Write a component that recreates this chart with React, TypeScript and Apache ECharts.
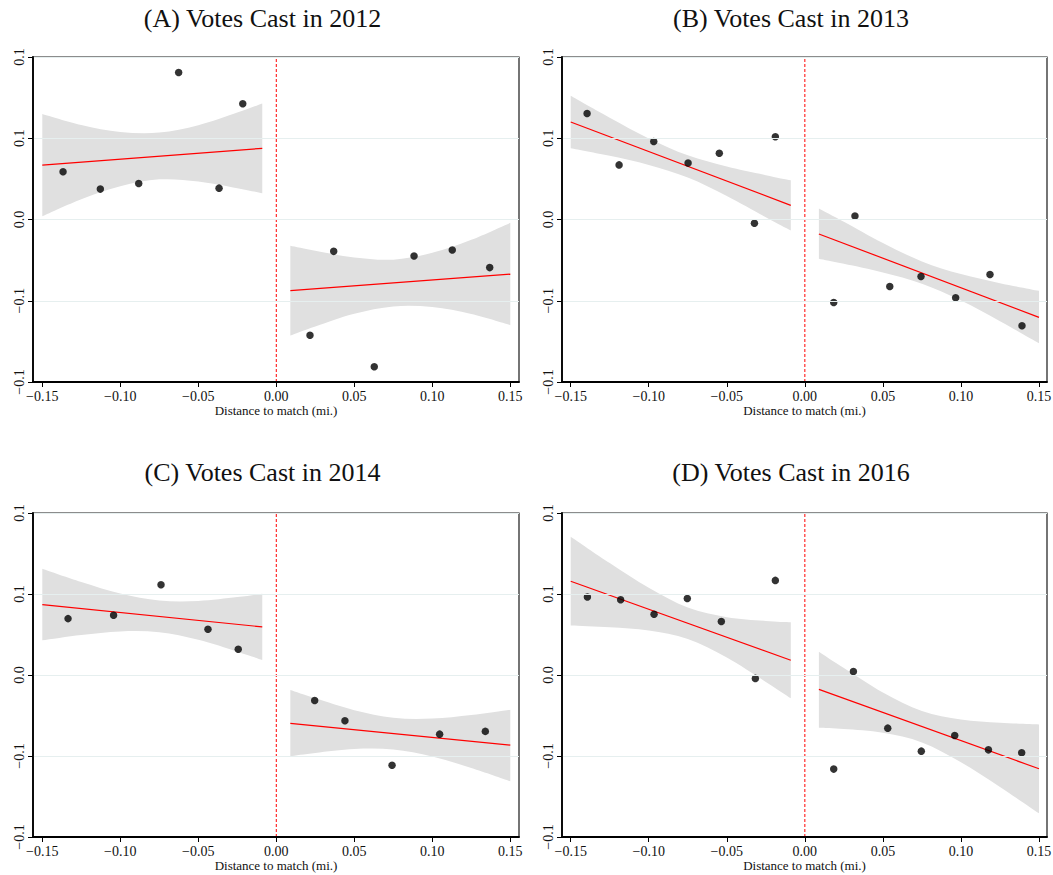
import React, { useEffect, useRef } from "react";
import * as echarts from "echarts";

// Axis ticks and their printed labels
const xTickValues = [-0.15, -0.1, -0.05, 0, 0.05, 0.1, 0.15];
const xTickLabels = ["−0.15", "−0.10", "−0.05", "0.00", "0.05", "0.10", "0.15"];
const yTickValues = [-0.1, -0.05, 0, 0.05, 0.1];
const yTickLabels = ["−0.1", "−0.1", "0.0", "0.1", "0.1"];

const panelTitles = [
  "(A) Votes Cast in 2012",
  "(B) Votes Cast in 2013",
  "(C) Votes Cast in 2014",
  "(D) Votes Cast in 2016",
];
const xAxisTitle = "Distance to match (mi.)";

// Cutoff line at zero distance
const cutoffLine = [[0, -0.1], [0, 0.1]];

// x positions where the confidence bands are evaluated
const bandXLeft = [-0.15, -0.125, -0.1, -0.075, -0.05, -0.025, -0.009];
const bandXRight = [0.009, 0.025, 0.05, 0.075, 0.1, 0.125, 0.15];

// (A) 2012
const votes2012X = [-0.1367, -0.1128, -0.0882, -0.0626, -0.0367, -0.0215, 0.0216, 0.0368, 0.0628, 0.0883, 0.1128, 0.1368];
const votes2012Y = [0.0294, 0.0187, 0.0222, 0.0905, 0.0193, 0.0712, -0.0712, -0.0196, -0.0906, -0.0225, -0.0188, -0.0296];
const fit2012Left = [[-0.15, 0.0335], [-0.009, 0.0438]];
const fit2012Right = [[0.009, -0.0438], [0.15, -0.0336]];
const ci2012UpperL = [0.065, 0.0582, 0.0539, 0.0535, 0.058, 0.0658, 0.0714];
const ci2012LowerL = [0.002, 0.0125, 0.0205, 0.0247, 0.0234, 0.0193, 0.0162];
const ci2012UpperR = [-0.0162, -0.0193, -0.0234, -0.0247, -0.0205, -0.0125, -0.002];
const ci2012LowerR = [-0.0714, -0.0658, -0.058, -0.0535, -0.0539, -0.0582, -0.065];

// (B) 2013
const votes2013X = [-0.1395, -0.119, -0.0968, -0.0748, -0.0548, -0.0323, -0.0189, 0.0185, 0.0321, 0.0544, 0.0744, 0.0966, 0.1186, 0.1391];
const votes2013Y = [0.0652, 0.0336, 0.048, 0.0348, 0.0408, -0.0023, 0.0509, -0.0511, 0.0021, -0.0412, -0.0351, -0.0482, -0.0338, -0.0654];
const fit2013Left = [[-0.15, 0.06], [-0.009, 0.0087]];
const fit2013Right = [[0.009, -0.0089], [0.15, -0.0602]];
const ci2013UpperL = [0.0761, 0.0626, 0.0499, 0.0395, 0.0326, 0.0273, 0.0241];
const ci2013LowerL = [0.0439, 0.0392, 0.0336, 0.0258, 0.0145, 0.0014, -0.0068];
const ci2013UpperR = [0.0068, -0.0014, -0.0145, -0.0258, -0.0336, -0.0392, -0.0439];
const ci2013LowerR = [-0.0241, -0.0273, -0.0326, -0.0395, -0.0499, -0.0626, -0.0761];

// (C) 2014
const votes2014X = [-0.1335, -0.1043, -0.0739, -0.0438, -0.0244, 0.0246, 0.044, 0.0742, 0.1047, 0.134];
const votes2014Y = [0.0348, 0.0369, 0.0557, 0.0282, 0.0159, -0.0157, -0.0282, -0.0557, -0.0365, -0.0348];
const fit2014Left = [[-0.15, 0.0435], [-0.009, 0.0297]];
const fit2014Right = [[0.009, -0.0299], [0.15, -0.0433]];
const ci2014UpperL = [0.0656, 0.0574, 0.0503, 0.046, 0.0457, 0.0481, 0.0501];
const ci2014LowerL = [0.0214, 0.0247, 0.0269, 0.0264, 0.0217, 0.0144, 0.0093];
const ci2014UpperR = [-0.0093, -0.0144, -0.0217, -0.0264, -0.0269, -0.0247, -0.0214];
const ci2014LowerR = [-0.0501, -0.0481, -0.0457, -0.046, -0.0503, -0.0574, -0.0656];

// (D) 2016
const votes2016X = [-0.1393, -0.118, -0.0966, -0.0753, -0.0535, -0.0317, -0.0189, 0.0185, 0.0311, 0.0531, 0.0746, 0.096, 0.1176, 0.1389];
const votes2016Y = [0.0482, 0.0464, 0.0375, 0.0472, 0.033, -0.0021, 0.0584, -0.0581, 0.0021, -0.0328, -0.047, -0.0373, -0.0462, -0.048];
const fit2016Left = [[-0.15, 0.0579], [-0.009, 0.0091]];
const fit2016Right = [[0.009, -0.0089], [0.15, -0.0579]];
const ci2016UpperL = [0.0854, 0.0691, 0.0538, 0.0416, 0.0357, 0.0334, 0.0326];
const ci2016LowerL = [0.0305, 0.0294, 0.0274, 0.0222, 0.0108, -0.0043, -0.0144];
const ci2016UpperR = [0.0144, 0.0043, -0.0108, -0.0222, -0.0274, -0.0294, -0.0305];
const ci2016LowerR = [-0.0326, -0.0334, -0.0357, -0.0416, -0.0538, -0.0691, -0.0854];

const panels = [
  { x: votes2012X, y: votes2012Y, fitL: fit2012Left, fitR: fit2012Right, upL: ci2012UpperL, loL: ci2012LowerL, upR: ci2012UpperR, loR: ci2012LowerR },
  { x: votes2013X, y: votes2013Y, fitL: fit2013Left, fitR: fit2013Right, upL: ci2013UpperL, loL: ci2013LowerL, upR: ci2013UpperR, loR: ci2013LowerR },
  { x: votes2014X, y: votes2014Y, fitL: fit2014Left, fitR: fit2014Right, upL: ci2014UpperL, loL: ci2014LowerL, upR: ci2014UpperR, loR: ci2014LowerR },
  { x: votes2016X, y: votes2016Y, fitL: fit2016Left, fitR: fit2016Right, upL: ci2016UpperL, loL: ci2016LowerL, upR: ci2016UpperR, loR: ci2016LowerR },
];

// Layout of the four plot regions (pixels)
const gridBoxes = [
  { left: 33, top: 57, width: 486, height: 325, xMin: -0.15596, xMax: 0.15558 },
  { left: 562, top: 57, width: 485, height: 325, xMin: -0.15557, xMax: 0.15512 },
  { left: 33, top: 513, width: 486, height: 324, xMin: -0.15596, xMax: 0.15558 },
  { left: 562, top: 513, width: 485, height: 324, xMin: -0.15557, xMax: 0.15512 },
];
const titlePos = [
  [262.5, 18.5],
  [791, 18.5],
  [262.5, 472.5],
  [791, 472.5],
];

const SERIF = "'Liberation Serif', 'DejaVu Serif', serif";
const BAND = "#e0e0e0";
const RED = "#ff0000";

type Pt = number[];

// Smooth SVG path segments through pixel points (Catmull-Rom as cubic Béziers)
function curveThrough(pts: Pt[]): string {
  let d = "";
  for (let i = 0; i < pts.length - 1; i++) {
    const p0 = pts[Math.max(0, i - 1)];
    const p1 = pts[i];
    const p2 = pts[i + 1];
    const p3 = pts[Math.min(pts.length - 1, i + 2)];
    const c1x = p1[0] + (p2[0] - p0[0]) / 6;
    const c1y = p1[1] + (p2[1] - p0[1]) / 6;
    const c2x = p2[0] - (p3[0] - p1[0]) / 6;
    const c2y = p2[1] - (p3[1] - p1[1]) / 6;
    d += ` C${c1x},${c1y} ${c2x},${c2y} ${p2[0]},${p2[1]}`;
  }
  return d;
}

function bandSeries(i: number, xs: number[], up: number[], lo: number[]) {
  return {
    type: "custom",
    xAxisIndex: i,
    yAxisIndex: i,
    silent: true,
    z: 1,
    data: [[xs[0], lo[0]]],
    renderItem: (_params: any, api: any) => {
      const u = xs.map((x, j) => api.coord([x, up[j]]));
      const l = xs.map((x, j) => api.coord([x, lo[j]])).reverse();
      const d =
        `M${u[0][0]},${u[0][1]}` +
        curveThrough(u) +
        ` L${l[0][0]},${l[0][1]}` +
        curveThrough(l) +
        " Z";
      return {
        type: "path",
        shape: { pathData: d },
        style: { fill: BAND, stroke: null },
      };
    },
  };
}

function buildOption() {
  const grid: any[] = [];
  const xAxis: any[] = [];
  const yAxis: any[] = [];
  const series: any[] = [];

  panels.forEach((p, i) => {
    const g = gridBoxes[i];
    grid.push({
      left: g.left,
      top: g.top,
      width: g.width,
      height: g.height,
      show: true,
      borderColor: "#1a1a1a",
      borderWidth: 1.2,
      backgroundColor: "#fff",
      containLabel: false,
      outerBoundsMode: "none",
    });
    xAxis.push({
      type: "value",
      gridIndex: i,
      min: g.xMin,
      max: g.xMax,
      name: xAxisTitle,
      nameLocation: "middle",
      nameGap: 22,
      nameTextStyle: { fontFamily: SERIF, fontSize: 13, color: "#111" },
      axisLine: { show: true, onZero: false, lineStyle: { color: "#000", width: 1.8 } },
      axisTick: { show: true, length: 5, customValues: xTickValues, lineStyle: { color: "#000", width: 1 } },
      axisLabel: {
        show: true,
        customValues: xTickValues,
        margin: 7,
        fontFamily: SERIF,
        fontSize: 14,
        color: "#111",
        showMinLabel: true,
        showMaxLabel: true,
        formatter: (v: number) => {
          const k = xTickValues.findIndex((t) => Math.abs(t - v) < 1e-6);
          return k >= 0 ? xTickLabels[k] : "";
        },
      },
      splitLine: { show: false },
      z: 5,
    });
    yAxis.push({
      type: "value",
      gridIndex: i,
      min: -0.1,
      max: 0.1,
      interval: 0.05,
      axisLine: { show: true, onZero: false, lineStyle: { color: "#000", width: 1.8 } },
      axisTick: { show: true, length: 5, lineStyle: { color: "#000", width: 1 } },
      axisLabel: {
        show: true,
        rotate: 90,
        margin: 7,
        fontFamily: SERIF,
        fontSize: 14,
        color: "#111",
        showMinLabel: true,
        showMaxLabel: true,
        formatter: (v: number) => {
          const k = yTickValues.findIndex((t) => Math.abs(t - v) < 1e-6);
          return k >= 0 ? yTickLabels[k] : "";
        },
      },
      splitLine: { show: true, lineStyle: { color: "#e6efef", width: 1 } },
      z: 5,
    });

    series.push(bandSeries(i, bandXLeft, p.upL, p.loL));
    series.push(bandSeries(i, bandXRight, p.upR, p.loR));

    series.push({
      type: "line",
      xAxisIndex: i,
      yAxisIndex: i,
      symbol: "none",
      silent: true,
      lineStyle: { color: RED, width: 1, type: [3, 2] },
      data: cutoffLine,
      z: 2,
    });

    [p.fitL, p.fitR].forEach((f) => {
      series.push({
        type: "line",
        xAxisIndex: i,
        yAxisIndex: i,
        symbol: "none",
        silent: true,
        lineStyle: { color: RED, width: 1.2 },
        data: f,
        z: 3,
      });
    });

    series.push({
      type: "scatter",
      xAxisIndex: i,
      yAxisIndex: i,
      symbol: "circle",
      symbolSize: 7.5,
      itemStyle: { color: "#000" },
      data: p.x.map((x, j) => [x, p.y[j]]),
      z: 4,
    });
  });

  const graphic = panelTitles.map((t, i) => ({
    type: "text",
    x: titlePos[i][0],
    y: titlePos[i][1],
    style: {
      text: t,
      fill: "#111",
      font: `26px ${SERIF}`,
      align: "center",
      verticalAlign: "middle",
    },
  }));

  return {
    animation: false,
    backgroundColor: "#fff",
    grid,
    xAxis,
    yAxis,
    series,
    graphic,
  };
}

export default function App() {
  const ref = useRef<HTMLDivElement>(null);
  useEffect(() => {
    if (!ref.current) return;
    const chart = echarts.init(ref.current, undefined, { renderer: "svg" });
    chart.setOption(buildOption() as any);
    return () => chart.dispose();
  }, []);
  return (
    <div
      ref={ref}
      style={{ position: "absolute", left: 0, top: 0, width: 1053, height: 875, background: "#fff" }}
    />
  );
}
